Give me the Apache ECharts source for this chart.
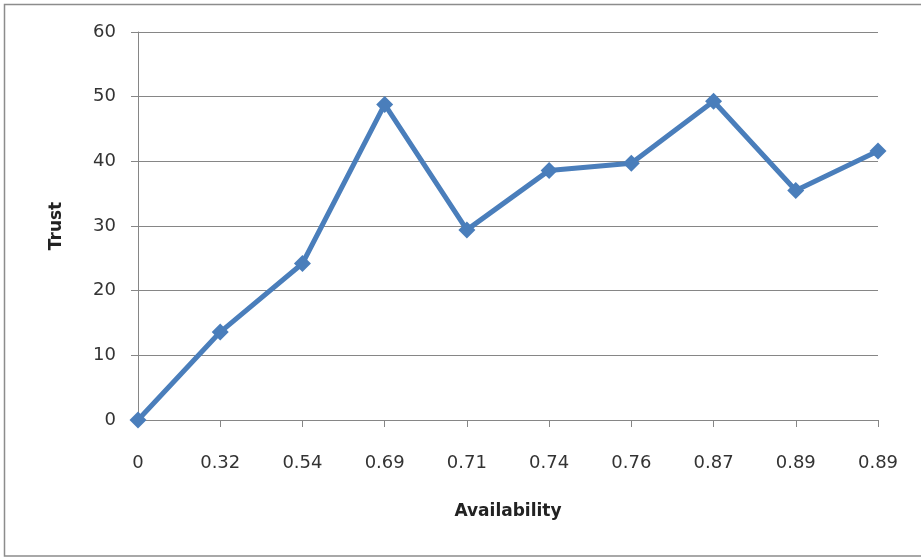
<!DOCTYPE html>
<html>
<head>
<meta charset="utf-8">
<script src="https://cdn.jsdelivr.net/npm/echarts@6/dist/echarts.min.js"></script>
<style>
  html, body { margin: 0; padding: 0; background: #fff; }
  #chart { width: 921px; height: 559px; }
</style>
</head>
<body>
<div id="chart"></div>
<script>
// Availability levels (category axis) and the trust score measured at each
const availability = ['0', '0.32', '0.54', '0.69', '0.71', '0.74', '0.76', '0.87', '0.89', '0.89'];
const trust = [0, 13.6, 24.2, 48.8, 29.4, 38.6, 39.7, 49.3, 35.5, 41.6];
const trustTicks = { min: 0, max: 60, interval: 10 };

const gridColor = '#868686';
const lineColor = '#4A7EBB';
const labelFont = 'DejaVu Sans';

const chart = echarts.init(document.getElementById('chart'), null, { renderer: 'canvas' });

chart.setOption({
  animation: false,
  backgroundColor: '#ffffff',
  graphic: [{
    type: 'rect',
    shape: { x: 4.5, y: 4.5, width: 930, height: 551.5 },
    style: { fill: 'none', stroke: '#8c8c8c', lineWidth: 1.5 },
    silent: true
  }],
  grid: { left: 138, right: 43, top: 32, bottom: 139, containLabel: false },
  xAxis: {
    type: 'category',
    data: availability,
    boundaryGap: false,
    name: 'Availability',
    nameLocation: 'middle',
    nameGap: 83,
    nameTextStyle: { fontFamily: labelFont, fontWeight: 'bold', fontSize: 17, color: '#222' },
    axisLine: { lineStyle: { color: gridColor, width: 1 } },
    axisTick: { show: true, alignWithLabel: true, length: 7, lineStyle: { color: gridColor } },
    axisLabel: { fontFamily: labelFont, fontSize: 18, color: '#333', margin: 34, interval: 0 },
    splitLine: { show: false }
  },
  yAxis: {
    type: 'value',
    min: trustTicks.min,
    max: trustTicks.max,
    interval: trustTicks.interval,
    name: 'Trust',
    nameLocation: 'middle',
    nameRotate: 90,
    nameGap: 73,
    nameTextStyle: { fontFamily: labelFont, fontWeight: 'bold', fontSize: 17, color: '#222' },
    axisLine: { show: true, lineStyle: { color: gridColor, width: 1 } },
    axisTick: { show: true, length: 7, lineStyle: { color: gridColor } },
    axisLabel: { fontFamily: labelFont, fontSize: 18, color: '#333', margin: 22 },
    splitLine: { show: true, lineStyle: { color: gridColor, width: 1 } }
  },
  series: [{
    type: 'line',
    data: trust,
    symbol: 'diamond',
    symbolSize: 17,
    showAllSymbol: true,
    lineStyle: { color: lineColor, width: 5 },
    itemStyle: { color: lineColor, borderWidth: 0 },
    z: 3
  }]
});
</script>
</body>
</html>
